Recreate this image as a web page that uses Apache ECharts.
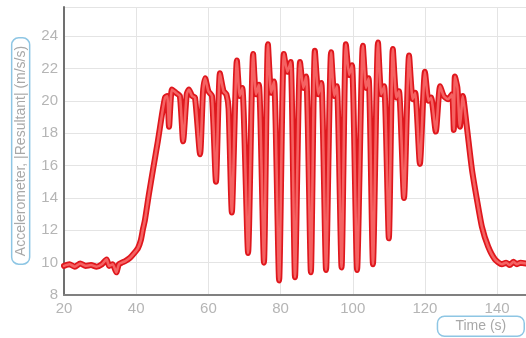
<!DOCTYPE html>
<html>
<head>
<meta charset="utf-8">
<script src="https://cdn.jsdelivr.net/npm/echarts@6/dist/echarts.min.js"></script>
<style>
  html, body { margin: 0; padding: 0; background: #fff; }
  #chart { width: 526px; height: 338px; }
</style>
</head>
<body>
<div id="chart"></div>
<script>
// time axis (s) and resultant acceleration (m/s/s)
const timeSec = [
  20, 21.5, 23, 24.5, 26, 27.5, 29, 30.5, 31.8, 32.5, 33.5, 34.5, 35.2, 36, 37, 38.3, 39.5, 40.5, 41.3, 41.9,
  42.4, 43.5, 44.7, 46, 47.1, 48.0, 48.6, 49.1, 49.9, 51.0, 52.1, 53.0, 54.0, 54.6, 55.5, 56.3, 57.7, 58.5, 59.1, 60.0,
  61.0, 62.1, 63.2, 64.2, 65.0, 65.6, 66.5,
  67.9, 68.7, 69.4, 71.0,
  72.4, 73.2, 74.0, 75.4,
  76.5, 77.4, 78.2, 79.6,
  80.9, 81.9, 82.8, 84.0,
  85.4, 86.3, 87.1, 88.4,
  89.5, 90.5, 91.3, 92.6,
  94.0, 94.9, 95.6, 96.9,
  98.1, 99.0, 99.8, 101.2,
  102.8, 103.7, 104.4, 105.6,
  107.0, 107.9, 108.7, 110.0,
  111.1, 112.1, 112.8, 114.2,
  115.6, 116.6, 117.3, 118.6,
  120.0, 121.0, 121.7, 123.0,
  124.2, 125.2, 126.4, 127.5, 128.0, 128.3, 129.0, 129.7, 130.5, 131.6, 133.0, 134.4, 135.8, 137.5, 139.4,
  141.3, 142.5, 143.5, 144.5, 145.5, 146.5, 148
]
const accel = [
  9.8, 9.9, 9.75, 9.95, 9.8, 9.85, 9.75, 9.9, 10.2, 9.8, 9.9, 9.4, 9.9, 10.0, 10.1, 10.3, 10.6, 10.9, 11.4, 12.1,
  12.6, 14.2, 15.8, 17.5, 19.1, 20.2, 20.3, 18.4, 20.7, 20.5, 20.3, 17.5, 20.4, 20.7, 20.3, 20.2, 16.7, 20.5, 21.4, 20.6,
  20.3, 15.0, 21.7, 20.6, 20.4, 19.5, 13.1,
  22.5, 20.3, 20.8, 10.6,
  22.9, 20.4, 21.0, 10.0,
  23.5, 20.5, 21.2, 8.9,
  22.9, 21.8, 22.4, 9.1,
  22.4, 20.8, 21.5, 9.4,
  23.1, 20.4, 21.1, 9.55,
  23.0, 20.3, 20.9, 9.7,
  23.5, 21.6, 22.2, 9.55,
  23.4, 20.8, 21.4, 9.9,
  23.6, 20.4, 20.9, 11.5,
  23.2, 20.2, 20.6, 14.0,
  22.8, 20.1, 20.5, 16.1,
  21.8, 20.0, 20.2, 18.1,
  20.9, 20.3, 20.1, 20.4, 18.2, 21.5, 20.8, 18.4, 20.3, 18.4, 15.8, 13.9, 12.2, 11.0, 10.2,
  9.9, 10.0, 9.85, 10.05, 9.9, 10.0, 9.95
]
const xTicks = [20, 40, 60, 80, 100, 120, 140]
const yTicks = [8, 10, 12, 14, 16, 18, 20, 22, 24]
const xMax = 148
const yMax = 25.8

const points = timeSec.map((t, i) => [t, accel[i]])
const labelColor = '#b5b5b5'
const fontFamily = '"Liberation Sans", Arial, sans-serif'

const chart = echarts.init(document.getElementById('chart'))
chart.setOption({
  animation: false,
  grid: { left: 64, right: 0, top: 7, bottom: 43 },
  xAxis: {
    type: 'value',
    min: xTicks[0],
    max: xMax,
    interval: xTicks[1] - xTicks[0],
    axisLine: { lineStyle: { color: '#808080', width: 2 } },
    axisTick: { show: false },
    axisLabel: { color: labelColor, fontSize: 15, fontFamily, margin: 6, showMaxLabel: false },
    splitLine: { lineStyle: { color: '#e4e4e4' } }
  },
  yAxis: {
    type: 'value',
    min: yTicks[0],
    max: yMax,
    interval: yTicks[1] - yTicks[0],
    axisLine: { show: true, lineStyle: { color: '#707070', width: 2 } },
    axisTick: { show: false },
    axisLabel: { color: labelColor, fontSize: 15, fontFamily, margin: 6, showMaxLabel: false },
    splitLine: { lineStyle: { color: '#e4e4e4' } },
    name: 'Accelerometer, |Resultant| (m/s/s)',
    nameLocation: 'middle',
    nameRotate: 90,
    nameGap: 30,
    nameTextStyle: {
      color: '#a8a8a8', fontSize: 14, fontFamily,
      borderColor: '#8ec6e4', borderWidth: 1.5, borderRadius: 7, padding: [2, 8, 2, 8]
    }
  },
  graphic: [{
    type: 'text',
    right: 1,
    bottom: 1,
    style: {
      text: 'Time (s)',
      fill: '#a8a8a8', fontSize: 14, fontFamily,
      borderColor: '#8ec6e4', borderWidth: 1.5, borderRadius: 7, padding: [3, 18, 3, 18]
    }
  }],
  series: [
    {
      type: 'line',
      data: points,
      showSymbol: false,
      smooth: 0.2,
      lineStyle: { color: '#df171d', width: 6, join: 'round', cap: 'round' }
    },
    {
      type: 'line',
      data: points,
      showSymbol: false,
      smooth: 0.2,
      lineStyle: { color: '#f56262', width: 2.6, join: 'round', cap: 'round' }
    }
  ]
})
</script>
</body>
</html>
